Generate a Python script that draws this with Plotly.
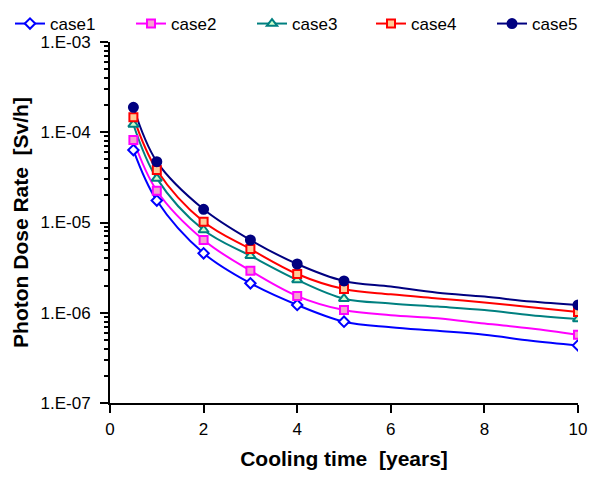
import plotly.graph_objects as go

years = [0.5, 1, 2, 3, 4, 5, 6, 7, 8, 9, 10]
marked_years = [0.5, 1, 2, 3, 4, 5, 10]

case1 = [6.35e-5, 1.75e-5, 4.56e-6, 2.12e-6, 1.22e-6, 7.96e-7, 6.9e-7, 6.3e-7, 5.7e-7, 4.9e-7, 4.35e-7]
case2 = [8.2e-5, 2.25e-5, 6.4e-6, 2.92e-6, 1.53e-6, 1.07e-6, 9.4e-7, 8.7e-7, 7.6e-7, 6.7e-7, 5.7e-7]
case3 = [1.22e-4, 3.08e-5, 8.26e-6, 4.28e-6, 2.31e-6, 1.43e-6, 1.27e-6, 1.17e-6, 1.07e-6, 9.4e-7, 8.5e-7]
case4 = [1.47e-4, 3.82e-5, 1.02e-5, 5.08e-6, 2.69e-6, 1.83e-6, 1.60e-6, 1.44e-6, 1.30e-6, 1.15e-6, 1.02e-6]
case5 = [1.89e-4, 4.72e-5, 1.40e-5, 6.4e-6, 3.47e-6, 2.25e-6, 1.95e-6, 1.67e-6, 1.51e-6, 1.33e-6, 1.22e-6]

names = ["case1", "case2", "case3", "case4", "case5"]
series = [case1, case2, case3, case4, case5]

y_tickvals = [1e-7, 1e-6, 1e-5, 1e-4, 1e-3]
y_ticktext = ["1.E-07", "1.E-06", "1.E-05", "1.E-04", "1.E-03"]
x_tickvals = [0, 2, 4, 6, 8, 10]

styles = [
    dict(color="#0000FF", symbol="diamond", fill="#FFFFFF", size=8),
    dict(color="#FF00FF", symbol="square", fill="#F5A3CF", size=8),
    dict(color="#008080", symbol="triangle-up", fill="#CCFFCC", size=9),
    dict(color="#FF0000", symbol="square", fill="#FFCC99", size=8),
    dict(color="#000080", symbol="circle", fill="#000080", size=9),
]

W, H = 591, 478
legend_x_px = [10, 131, 252, 371, 492]
legend_ids = ["legend", "legend2", "legend3", "legend4", "legend5"]

fig = go.Figure()

# legend entries (one legend per case, laid out in a row)
for name, st, lid in zip(names, styles, legend_ids):
    fig.add_trace(go.Scatter(
        x=[None], y=[None], name=name, mode="lines+markers",
        line=dict(color=st["color"], width=2),
        marker=dict(symbol=st["symbol"], color=st["fill"], size=st["size"],
                    line=dict(color=st["color"], width=2)),
        legendgroup=name, legend=lid,
    ))

# lines
for name, vals, st in zip(names, series, styles):
    fig.add_trace(go.Scatter(
        x=years, y=vals, mode="lines", showlegend=False, legendgroup=name,
        line=dict(color=st["color"], width=2, shape="spline", smoothing=1),
        hoverinfo="skip",
    ))

# markers
for name, vals, st in zip(names, series, styles):
    mx = [x for x in years if x in marked_years]
    my = [v for x, v in zip(years, vals) if x in marked_years]
    fig.add_trace(go.Scatter(
        x=mx, y=my, mode="markers", showlegend=False, legendgroup=name,
        marker=dict(symbol=st["symbol"], color=st["fill"], size=st["size"],
                    line=dict(color=st["color"], width=2)),
    ))

font = "Liberation Sans, Arial, sans-serif"

legend_layouts = {}
for lid, px in zip(legend_ids, legend_x_px):
    legend_layouts[lid] = dict(
        orientation="h", xref="container", yref="container",
        x=px / W, xanchor="left", y=1 - 24 / H, yanchor="middle",
        font=dict(size=17, family=font, color="black"),
        bgcolor="rgba(0,0,0,0)", itemclick=False, itemdoubleclick=False,
    )

fig.update_layout(
    width=W, height=H,
    margin=dict(l=110, r=13, t=42, b=75, autoexpand=False),
    paper_bgcolor="white", plot_bgcolor="white",
    font=dict(family=font, size=17, color="black"),
    showlegend=True,
    xaxis=dict(
        range=[0, 10], tickvals=x_tickvals, showline=True, linecolor="black",
        linewidth=2, ticks="outside", ticklen=8, tickwidth=2, tickcolor="black",
        showgrid=False, zeroline=False, mirror=False, automargin=False,
        ticklabelstandoff=2,
        title=dict(text="<b>Cooling time\u00a0 [years]</b>", font=dict(size=21), standoff=13),
    ),
    yaxis=dict(
        type="log", range=[-7, -3], tickvals=y_tickvals, ticktext=y_ticktext,
        showline=True, linecolor="black", linewidth=2, ticks="outside",
        ticklen=8, tickwidth=2, tickcolor="black", showgrid=False,
        zeroline=False, ticklabelstandoff=6, automargin=False,
        minor=dict(ticks="outside", ticklen=4, tickwidth=1.5, tickcolor="black",
                   dtick="D1", showgrid=False),
        title=dict(text="<b>Photon Dose Rate\u00a0 [Sv/h]</b>", font=dict(size=21), standoff=6),
    ),
    **legend_layouts,
)

fig.write_html(
    "out.html",
    config={"displayModeBar": False},
    post_script="document.body.style.margin='0';document.body.style.overflow='hidden';",
)
